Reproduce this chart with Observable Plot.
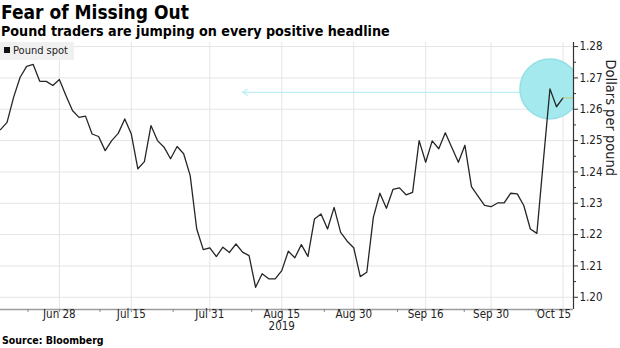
<!DOCTYPE html>
<html><head><meta charset="utf-8">
<script src="https://cdn.jsdelivr.net/npm/d3@7"></script>
<script src="https://cdn.jsdelivr.net/npm/@observablehq/plot@0.6"></script>
<style>
body{margin:0;background:#fff;}
#wrap{position:relative;width:620px;height:348px;overflow:hidden;background:#fff;color:#000;font-family:"DejaVu Sans Condensed","Liberation Sans Narrow","Liberation Sans",sans-serif;}
#title{position:absolute;left:1px;top:2px;font-family:"DejaVu Sans Condensed","DejaVu Sans",sans-serif;font-weight:bold;font-size:19px;line-height:20px;white-space:nowrap;}
#subtitle{position:absolute;left:1px;top:23px;font-family:"DejaVu Sans Condensed","DejaVu Sans",sans-serif;font-weight:bold;font-size:14.2px;line-height:16px;white-space:nowrap;}
#chart{position:absolute;left:0;top:40px;}
#legend{position:absolute;left:0;top:42px;height:18px;padding:0 6px 0 4px;background:#f0f0f0;font-size:11px;line-height:18px;color:#222;white-space:nowrap;}
#legend .sw{display:inline-block;width:6px;height:6px;background:#111;margin-right:3px;vertical-align:1px;}
#source{position:absolute;left:2px;top:334px;font-family:"DejaVu Sans Condensed","DejaVu Sans",sans-serif;font-weight:bold;font-size:10.5px;line-height:13px;white-space:nowrap;}
</style></head><body>
<div id="wrap">
<div id="title">Fear of Missing Out</div>
<div id="subtitle">Pound traders are jumping on every positive headline</div>
<div id="chart"></div>
<div id="legend"><span class="sw"></span>Pound spot</div>
<div id="source">Source: Bloomberg</div>
</div>
<script>
// Trading days (weekdays) from Jun 17 to Oct 15, 2019
const firstDay = new Date(2019, 5, 17);
const lastDay = new Date(2019, 9, 15);
// GBP/USD spot, one value per trading day
const poundSpot = [
  1.2535, 1.2558, 1.2638, 1.2702, 1.2737, 1.2743, 1.2689, 1.2689, 1.2676, 1.2695,
  1.2644, 1.2596, 1.2574, 1.2578, 1.2521, 1.2513, 1.2468, 1.2500, 1.2523, 1.2569,
  1.2521, 1.2410, 1.2433, 1.2548, 1.2500, 1.2479, 1.2442, 1.2481, 1.2458, 1.2388,
  1.2218, 1.2152, 1.2158, 1.2130, 1.2160, 1.2143, 1.2170, 1.2144, 1.2133, 1.2032,
  1.2075, 1.2059, 1.2059, 1.2085, 1.2147, 1.2126, 1.2168, 1.2130, 1.2250, 1.2266,
  1.2218, 1.2287, 1.2207, 1.2179, 1.2158, 1.2066, 1.2080, 1.2255, 1.2332, 1.2284,
  1.2344, 1.2349, 1.2327, 1.2335, 1.2500, 1.2431, 1.2499, 1.2474, 1.2525, 1.2478,
  1.2431, 1.2485, 1.2353, 1.2323, 1.2293, 1.2289, 1.2301, 1.2301, 1.2332, 1.2330,
  1.2293, 1.2218, 1.2204, 1.2437, 1.2665, 1.2608, 1.2636
];
const xTickDates = ["2019-06-28","2019-07-15","2019-07-31","2019-08-15","2019-08-30","2019-09-16","2019-09-30","2019-10-15"];
const xTickLabels = ["Jun 28","Jul 15","Jul 31","Aug 15","Aug 30","Sep 16","Sep 30","Oct 15"];
const minorXTicks = [4.2, 15.2, 26.4, 38.4, 49.5, 60.7, 70.9, 81.9];
const yearLabel = "2019";
const yTicks = [1.20, 1.21, 1.22, 1.23, 1.24, 1.25, 1.26, 1.27, 1.28];
const yMinorTicks = [1.205, 1.215, 1.225, 1.235, 1.245, 1.255, 1.265, 1.275];
const yDomain = [1.1961, 1.2813];
const highlightDate = "2019-10-11";
const arrowTipDate = "2019-08-07";
const arrowLevel = 1.2654;
const yLabel = "Dollars per pound";

const fmt = d3.timeFormat("%Y-%m-%d");
const days = d3.timeDay.range(firstDay, d3.timeDay.offset(lastDay, 1)).filter(d => d.getDay() % 6 !== 0);
const idxOf = s => days.findIndex(d => fmt(d) === s);
const data = poundSpot.map((v, i) => ({i, date: days[i], v}));
const xMax = data.length + 0.6;
const xTicks = xTickDates.map((s, k) => ({i: idxOf(s), label: xTickLabels[k]}));
const hi = idxOf(highlightDate);
const lastI = data.length - 1;

const chart = Plot.plot({
  width: 620, height: 293,
  marginLeft: 0, marginRight: 47, marginTop: 2, marginBottom: 24,
  style: {fontFamily: '"DejaVu Sans Condensed","Liberation Sans Narrow","Liberation Sans",sans-serif', fontSize: "11.5px", color: "#222", background: "#fff", overflow: "visible"},
  x: {domain: [0, xMax], axis: null},
  y: {domain: yDomain, axis: null},
  marks: [
    Plot.gridY(yTicks, {stroke: "#e4e4e4", strokeOpacity: 1}),
    Plot.gridX(xTicks.map(d => d.i), {stroke: "#e4e4e4", strokeOpacity: 1}),
    Plot.arrow([{a: hi, b: idxOf(arrowTipDate), y: arrowLevel}], {x1: "a", x2: "b", y1: "y", y2: "y", stroke: "#bdeef3", strokeWidth: 1.2, headLength: 7}),
    Plot.dot([data[hi]], {x: "i", y: "v", r: 30, fill: "#a4e9ee", stroke: "#94e0e6", clip: true}),
    Plot.ruleY([yDomain[0]], {stroke: "#9c9c9c", strokeWidth: 1.5}),
    Plot.lineY(data, {x: "i", y: "v", stroke: "#262626", strokeWidth: 1.3}),
    Plot.ruleY([poundSpot[lastI]], {x1: () => lastI, x2: () => xMax, stroke: "#c9c86a", strokeWidth: 1}),
    Plot.ruleX([xMax], {stroke: "#333", strokeWidth: 1.2}),
    Plot.axisY(yTicks, {anchor: "right", tickSize: 4, tickPadding: 2, tickFormat: d3.format(".2f"), label: null, stroke: "#333"}),
    Plot.axisY(yMinorTicks, {anchor: "right", tickSize: 2, tickFormat: () => "", label: null, stroke: "#333"}),
    Plot.axisX([...xTicks.map(d => d.i), ...minorXTicks], {tickSize: 3, tickFormat: () => "", label: null, stroke: "#888"}),
    Plot.text(xTicks.slice(0, -1), {x: "i", text: "label", frameAnchor: "bottom", dy: 8, fill: "#222"}),
    Plot.text(xTicks.slice(-1), {x: "i", text: "label", frameAnchor: "bottom", dy: 8, dx: -9, fill: "#222"}),
    Plot.text([{i: idxOf("2019-08-15"), t: yearLabel}], {x: "i", text: "t", frameAnchor: "bottom", dy: 20.5, fill: "#222"}),
    Plot.text([yLabel], {frameAnchor: "right", rotate: 90, dx: 37, fontSize: 14.5, fill: "#222"})
  ]
});
document.getElementById("chart").appendChild(chart);
</script>
</body></html>
